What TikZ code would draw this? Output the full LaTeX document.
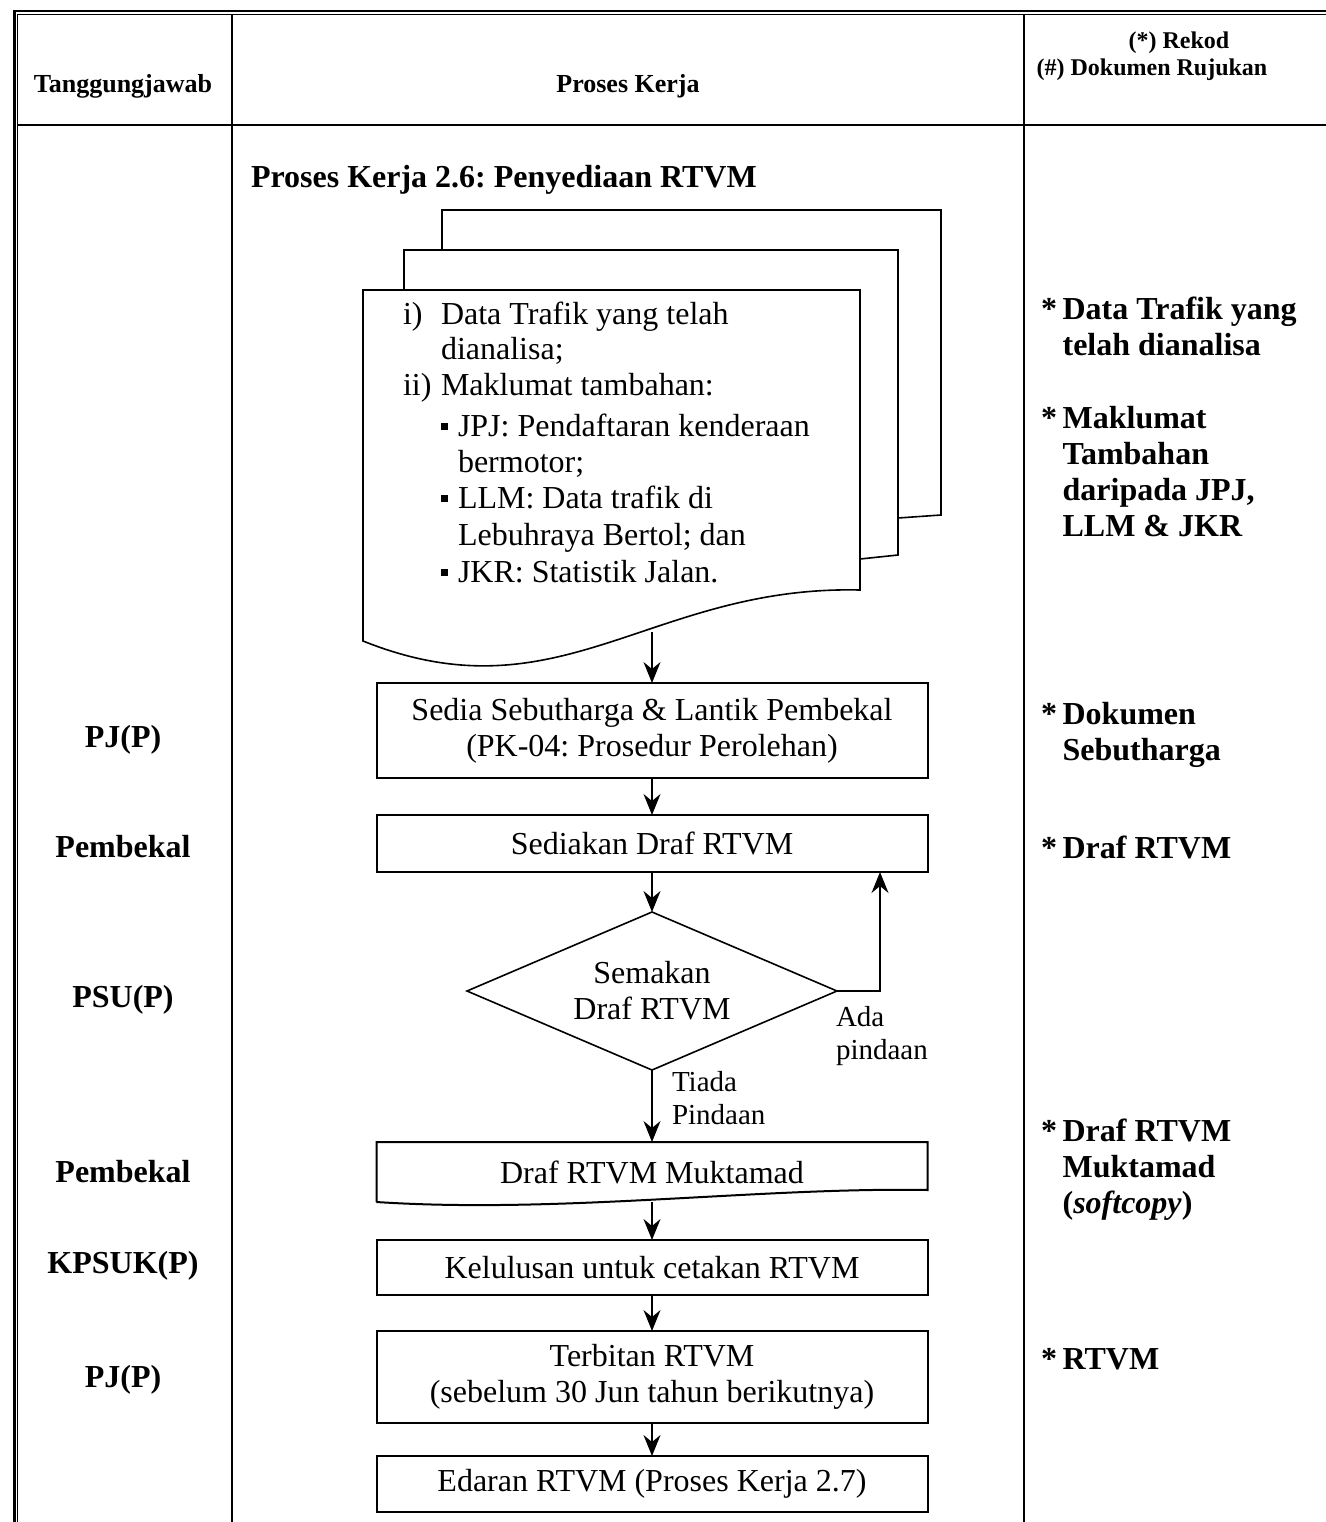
\documentclass[tikz,border=0pt]{standalone}
\usepackage{fontspec}
\setmainfont{Liberation Serif}
\usetikzlibrary{arrows.meta,calc,shapes.geometric}
\frenchspacing
% multi-line text whose baseline is the first line
\newcommand\stack[1]{\begin{tabular}[t]{@{}l@{}}#1\end{tabular}}
% square bullet followed by its text
\newcommand\sqbul{\makebox[8.5pt][l]{\raisebox{2.8pt}{\rule{3.6pt}{3.6pt}}}}
% record marker with hanging text
\newcommand\recmark{\makebox[10.8pt][l]{*}}
\newcommand\rechang{\hspace*{10.8pt}}
\begin{document}
\begin{tikzpicture}[x=0.5pt,y=-0.5pt,
  every node/.style={inner sep=0pt, outer sep=0pt},
  body/.style={font=\fontsize{16}{18}\selectfont},
  bodyb/.style={font=\fontsize{16}{18}\selectfont\bfseries},
  small/.style={font=\fontsize{14.5}{16.5}\selectfont},
  hdr/.style={font=\fontsize{13}{15}\selectfont\bfseries},
  hdrs/.style={font=\fontsize{12}{14}\selectfont\bfseries},
  rule/.style={line width=0.9pt},
  procbox/.style={draw, line width=1pt, minimum width=275.5pt, body, align=center, fill=white},
  flow/.style={line width=0.75pt, -{Stealth[length=10.5pt,width=8.5pt,inset=3.5pt]}},
  sheet/.style={line width=0.8pt, fill=white, line join=miter},
  decision/.style={draw, diamond, aspect=2.34, line width=0.8pt, minimum width=185pt,
    minimum height=79pt, body, align=center}
]
\useasboundingbox (0,0) rectangle (1326,1522);

% double outer frame
\draw[line width=1.15pt] (14.5,1522) -- (14.5,11.2) -- (1326,11.2);
\draw[line width=0.85pt] (17.5,1522) -- (17.5,14.4) -- (1326,14.4);
% column rules and header rule
\draw[rule] (232,14.4) -- (232,1522);
\draw[rule] (1024,14.4) -- (1024,1522);
\draw[line width=1pt] (17.5,125) -- (1326,125);

% header row
\node[hdr] (hresp) at (123,86) {Tanggungjawab};
\node[hdr] (hproc) at (628,86) {Proses Kerja};
\node[hdrs] (hrec) at (1179,43) {(*) Rekod};
\node[hdrs] (hdoc) at (1152,70) {(\#) Dokumen Rujukan};

% title
\node[bodyb, anchor=base west] (title) at (251,187) {Proses Kerja 2.6: Penyediaan RTVM};

% stacked input documents
\draw[sheet] (442,250) -- (442,210) -- (941,210) -- (941,515) -- (898,518);
\draw[sheet] (404,290) -- (404,250) -- (898,250) -- (898,555) -- (860,559);
\draw[sheet] (363,290) -- (860,290) -- (860,590)
  .. controls (650,585) and (560,720) .. (363,641) -- cycle;
\coordinate (docout) at (652,632);

\node[body, anchor=base west] (in1a) at (403,324) {i)};
\node[body, anchor=base west] (in1b) at (441,324) {Data Trafik yang telah};
\node[body, anchor=base west] (in2) at (441,359) {dianalisa;};
\node[body, anchor=base west] (in3a) at (403,395) {ii)};
\node[body, anchor=base west] (in3b) at (441,395) {Maklumat tambahan:};
\node[body, anchor=base west] (in4) at (441,436) {\sqbul JPJ: Pendaftaran kenderaan};
\node[body, anchor=base west] (in5) at (458,472) {bermotor;};
\node[body, anchor=base west] (in6) at (441,508) {\sqbul LLM: Data trafik di};
\node[body, anchor=base west] (in7) at (458,545) {Lebuhraya Bertol; dan};
\node[body, anchor=base west] (in8) at (441,582) {\sqbul JKR: Statistik Jalan.};

% process steps
\node[procbox, minimum height=47.5pt] (s1) at (652,730.5)
  {Sedia Sebutharga \& Lantik Pembekal\\(PK-04: Prosedur Perolehan)};
\node[procbox, minimum height=28.5pt] (s2) at (652,843.5) {Sediakan Draf RTVM};
\node[decision] (chk) at (652,991) {Semakan\\Draf RTVM};

% final draft (document shape)
\node[minimum width=275.5pt, minimum height=30pt, body] (s3) at (652,1172) {Draf RTVM Muktamad};
\draw[line width=1pt, line join=miter] (s3.south west) -- (s3.north west) -- (s3.north east)
  -- ($(s3.north east)+(0,48)$) .. controls (760,1187) and (560,1214) .. (s3.south west);
\coordinate (s3out) at (652,1202);

\node[procbox, minimum height=27.5pt] (s4) at (652,1267.5) {Kelulusan untuk cetakan RTVM};
\node[procbox, minimum height=46pt] (s5) at (652,1377)
  {Terbitan RTVM\\(sebelum 30 Jun tahun berikutnya)};
\node[procbox, minimum height=28pt] (s6) at (652,1484) {Edaran RTVM (Proses Kerja 2.7)};

% flow connectors
\draw[flow] (docout) -- (s1.north);
\draw[flow] (s1.south) -- (s2.north);
\draw[flow] (s2.south) -- (chk.north);
\draw[flow] (chk.east) -| ($(s2.south east)+(-47.5,0)$);
\draw[flow] (chk.south) -- (s3.north);
\draw[flow] (s3out) -- (s4.north);
\draw[flow] (s4.south) -- (s5.north);
\draw[flow] (s5.south) -- (s6.north);

\node[small, anchor=base west] (ada) at (836,1026) {\stack{Ada\\pindaan}};
\node[small, anchor=base west] (tiada) at (672,1091) {\stack{Tiada\\Pindaan}};

% responsibility column
\node[bodyb] (r1) at (123,740) {PJ(P)};
\node[bodyb] (r2) at (123,847) {Pembekal};
\node[bodyb] (r3) at (123,1000) {PSU(P)};
\node[bodyb] (r4) at (123,1172) {Pembekal};
\node[bodyb] (r5) at (123,1266) {KPSUK(P)};
\node[bodyb] (r6) at (123,1380) {PJ(P)};

% records column
\node[bodyb, anchor=base west] (k1) at (1041,319)
  {\stack{\recmark Data Trafik yang\\\rechang telah dianalisa}};
\node[bodyb, anchor=base west] (k2) at (1041,428)
  {\stack{\recmark Maklumat\\\rechang Tambahan\\\rechang daripada JPJ,\\\rechang LLM \& JKR}};
\node[bodyb, anchor=base west] (k3) at (1041,724)
  {\stack{\recmark Dokumen\\\rechang Sebutharga}};
\node[bodyb, anchor=base west] (k4) at (1041,858) {\recmark Draf RTVM};
\node[bodyb, anchor=base west] (k5) at (1041,1141)
  {\stack{\recmark Draf RTVM\\\rechang Muktamad\\\rechang (\textit{softcopy})}};
\node[bodyb, anchor=base west] (k6) at (1041,1369) {\recmark RTVM};
\end{tikzpicture}
\end{document}
